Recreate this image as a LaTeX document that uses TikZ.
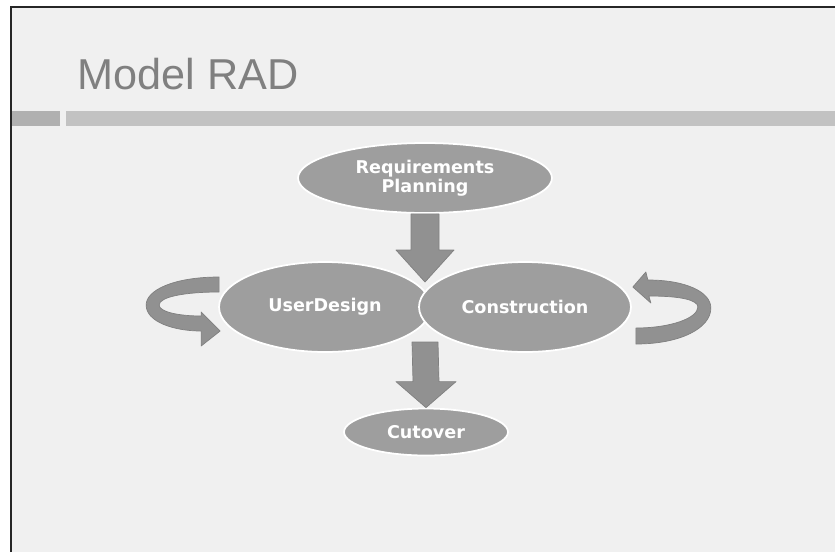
\documentclass[tikz,border=0pt]{standalone}
\usepackage{fontspec}
\setmainfont{Liberation Sans}
\newfontfamily\phasefont{DejaVu Sans}
\usepackage{tikz}
\usetikzlibrary{positioning, calc, shapes.geometric}

\definecolor{slidebg}{gray}{0.94}
\definecolor{phasegray}{gray}{0.62}
\definecolor{flowgray}{gray}{0.57}
\definecolor{flowedge}{gray}{0.50}
\definecolor{titlegray}{gray}{0.50}

\begin{document}
\begin{tikzpicture}[x=0.02cm, y=-0.02cm,
		phase/.style={ellipse, fill=phasegray, draw=white, line width=1pt, inner sep=0pt,
			text=white, align=center, font=\phasefont\bfseries\fontsize{10}{11}\selectfont},
		flow/.style={fill=flowgray, draw=flowedge, line width=0.4pt, line join=round}]
		\useasboundingbox (0,0) rectangle (835,552);
		% slide
		\fill[slidebg] (11,7) rectangle (835,552);
		\draw[line width=1.2pt, black!85] (11,552) -- (11,7) -- (835,7);
		\fill[gray!62] (12,111) rectangle (60,126);
		\fill[gray!48] (66,111) rectangle (835,126);
		\node[anchor=base west, inner sep=0pt, text=titlegray, font=\fontsize{24.6}{28}\selectfont] (title) at (77,89) {Model RAD};

		% phases
		\node[phase, minimum width=5.08cm, minimum height=1.4cm] (req) at (425,178) {Requirements\\Planning};
		\node[phase, minimum width=4.24cm, minimum height=1.8cm] (ud) at (325,307) {UserDesign};
		\node[phase, minimum width=4.24cm, minimum height=1.8cm] (con) at (525,307) {Construction};
		\node[phase, minimum width=3.28cm, minimum height=0.94cm] (cut) at (426,432) {Cutover};
		\coordinate (jtop) at ($(ud)!0.5!(con)+(0,-25)$);
		\coordinate (jbot) at ($(ud)!0.5!(con)+(0,35)$);

		% block arrows
		\draw[flow] ($(req.south)+(-14,0)$) -- ($(jtop)+(-14,-32)$) -- ($(jtop)+(-29,-32)$) -- (jtop)
			-- ($(jtop)+(29,-32)$) -- ($(jtop)+(14,-32)$) -- ($(req.south)+(14,0)$) -- cycle;
		\draw[flow] ($(jbot)+(-13,0)$) -- ($(cut.north)+(-13,-26)$) -- ($(cut.north)+(-30,-26)$) -- (cut.north)
			-- ($(cut.north)+(30,-26)$) -- ($(cut.north)+(13,-26)$) -- ($(jbot)+(13,0)$) -- cycle;

		% loops
		\begin{scope}[shift={(ud.west)}]
			\draw[flow] (1,-30) .. controls (-44,-30) and (-72,-17) .. (-72,-2)
				.. controls (-72,15) and (-44,24) .. (-17,24) -- (-17,39) -- (2,24) -- (-17,5) -- (-17,9)
				.. controls (-39,9) and (-59,5) .. (-59,-2)
				.. controls (-59,-10) and (-34,-15) .. (1,-15) -- cycle;
		\end{scope}
		\begin{scope}[shift={(con.east)}]
			\draw[flow] (4,21) .. controls (39,21) and (66,11) .. (66,0)
				.. controls (66,-7) and (49,-11) .. (17,-11) -- (19,-4) -- (1,-20) -- (14,-35) -- (16,-27)
				.. controls (54,-27) and (79,-15) .. (79,1)
				.. controls (79,21) and (49,37) .. (4,37) -- cycle;
		\end{scope}
	\end{tikzpicture}
\end{document}
